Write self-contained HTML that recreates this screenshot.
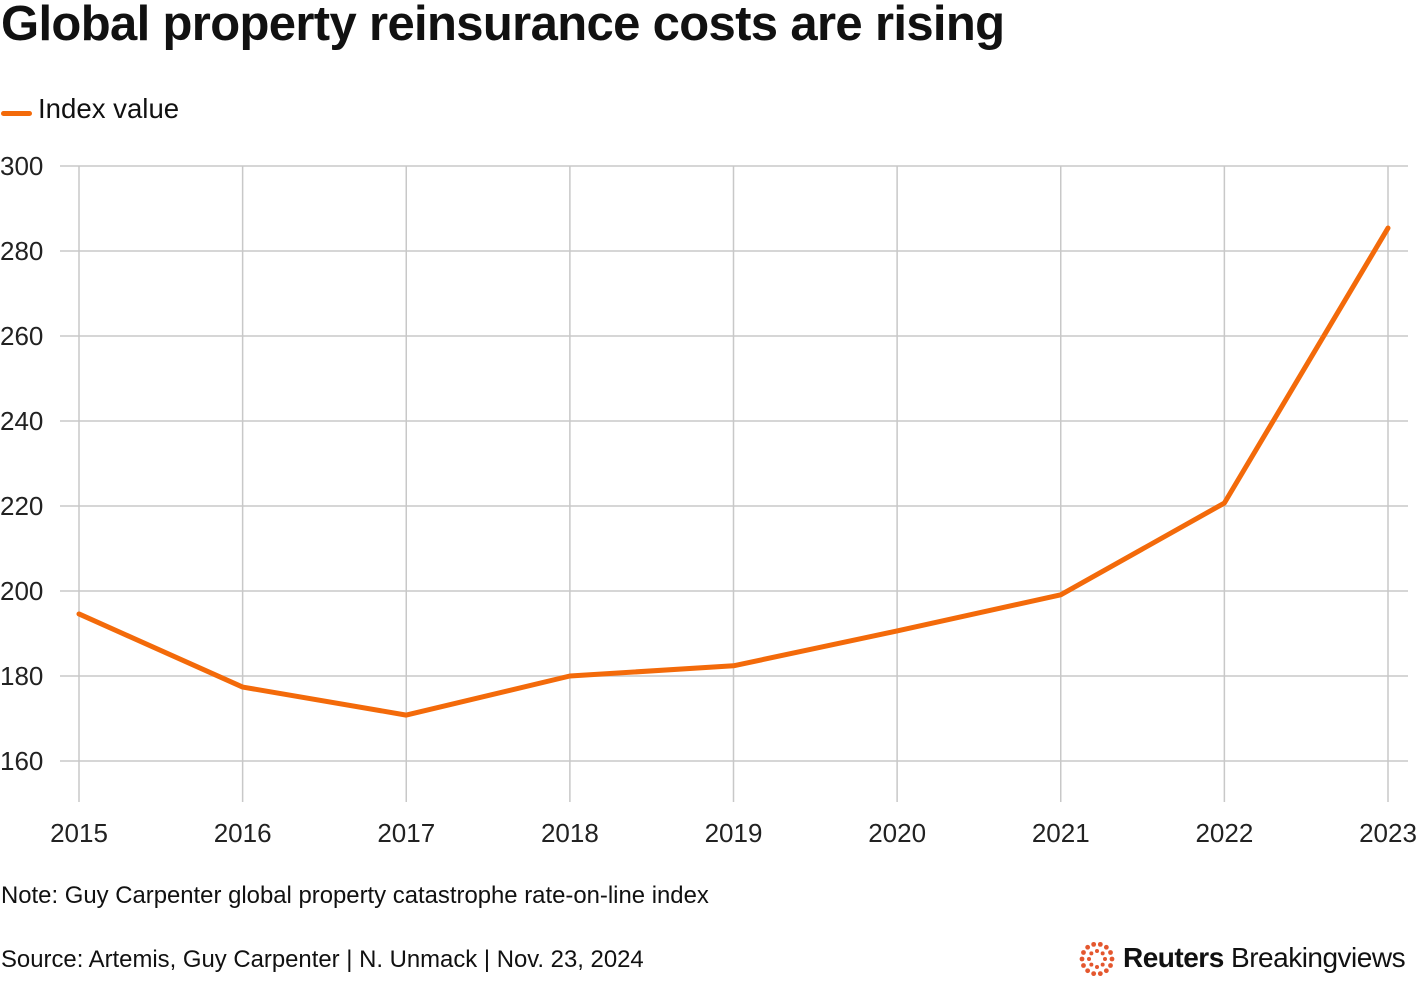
<!DOCTYPE html>
<html><head><meta charset="utf-8"><style>
body{margin:0;width:1420px;height:1008px;background:#fff;font-family:"Liberation Sans",Arial,sans-serif;color:#111;position:relative;overflow:hidden}
.t{position:absolute;white-space:nowrap}
</style></head><body>
<div class="t" style="left:1px;top:-4px;font-size:49px;font-weight:bold;letter-spacing:-0.65px">Global property reinsurance costs are rising</div>
<div style="position:absolute;left:1px;top:94px;height:30px">
<div style="position:absolute;left:0;top:17px;width:31px;height:5px;background:#f36a0a;border-radius:3px"></div>
<div class="t" style="left:37px;top:-1px;font-size:27.6px">Index value</div></div>
<svg id="chart" width="1420" height="860" style="position:absolute;left:0;top:0"></svg>
<div class="t" style="left:1px;top:882px;font-size:23.9px">Note: Guy Carpenter global property catastrophe rate-on-line index</div>
<div class="t" style="left:1px;top:946px;font-size:23.9px">Source: Artemis, Guy Carpenter | N. Unmack | Nov. 23, 2024</div>
<div style="position:absolute;left:1076px;top:938px;height:40px">
<svg width="42" height="42" style="position:absolute;left:0;top:0" id="logo"></svg>
<div class="t" style="left:47px;top:4px;font-size:28px;letter-spacing:-0.5px"><b>Reuters</b> Breakingviews</div></div>
<script>
const years=[2015,2016,2017,2018,2019,2020,2021,2022,2023];
const values=[194.6,177.4,170.8,180.0,182.4,190.6,199.1,220.7,285.4];
const yTicks=[160,180,200,220,240,260,280,300];
const NS="http://www.w3.org/2000/svg";
const svg=document.getElementById('chart');
const x=i=>79+i*(1388-79)/(years.length-1);
const y=v=>166+(300-v)*85/20;
function mk(t,a){const e=document.createElementNS(NS,t);for(const k in a)e.setAttribute(k,a[k]);svg.appendChild(e);return e;}
yTicks.forEach(v=>{
 const l=mk('line',{x1:60,x2:1408,y1:y(v),y2:y(v),stroke:'#c8c8c8','stroke-width':1.5});
 
 
 const t=mk('text',{x:0,y:y(v)+9,'font-size':26,fill:'#222','font-family':'Liberation Sans, sans-serif'});
 t.textContent=v;
 
 
});
years.forEach((yr,i)=>{
 const l=mk('line',{x1:x(i),x2:x(i),y1:166,y2:802,stroke:'#c8c8c8','stroke-width':1.5});
 
 
 const t=mk('text',{x:x(i),y:842,'font-size':26,fill:'#222','text-anchor':'middle','font-family':'Liberation Sans, sans-serif'});
 t.textContent=yr;
 
 
});
const p=mk('polyline',{points:values.map((v,i)=>x(i)+','+y(v)).join(' '),fill:'none',stroke:'#f36a0a','stroke-width':5,'stroke-linejoin':'round','stroke-linecap':'round'});


const lg=document.getElementById('logo');
for(let r of [8,15]){const n=r===8?8:14;for(let k=0;k<n;k++){const a=k*2*Math.PI/n;const c=document.createElementNS(NS,'circle');c.setAttribute('cx',21+r*Math.cos(a));c.setAttribute('cy',21+r*Math.sin(a));c.setAttribute('r',r===8?2:2.4);c.setAttribute('fill','#e4572e');lg.appendChild(c);}}
</script>
</body></html>
